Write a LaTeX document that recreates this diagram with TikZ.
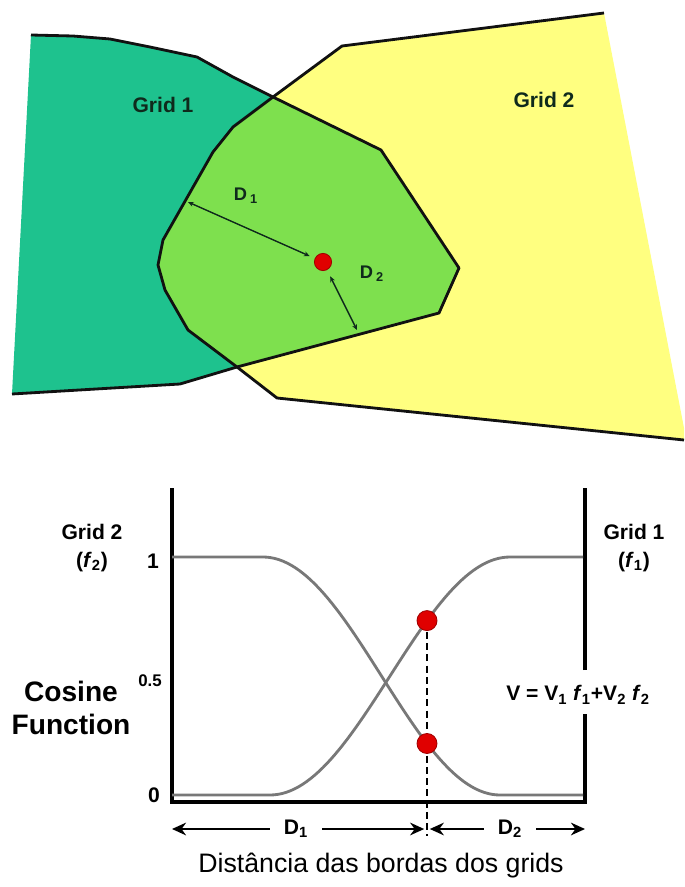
\documentclass[tikz,border=0pt]{standalone}
\usepackage{fontspec}
\setmainfont{Liberation Sans}
\usepackage{xcolor}
\usepackage{tikz}
\usetikzlibrary{arrows.meta, positioning, backgrounds}
\definecolor{gonefill}{HTML}{1EC28E}
\definecolor{gtwofill}{HTML}{FFFF80}
\definecolor{ovfill}{HTML}{7EE04E}
\definecolor{edgedraw}{HTML}{111111}
\definecolor{lbltext}{HTML}{0F2A1C}
\definecolor{dotfill}{HTML}{E00000}
\definecolor{dotdraw}{HTML}{A00000}
\definecolor{curvedraw}{HTML}{787878}
\tikzset{
  bnd/.style={draw=edgedraw, line width=2pt, line join=round},
  glab/.style={font=\fontsize{15}{18}\selectfont\bfseries, text=lbltext},
  dlab/.style={font=\fontsize{13}{15}\selectfont\bfseries, text=lbltext},
  reddot/.style={circle, fill=dotfill, draw=dotdraw, line width=0.6pt, inner sep=0pt, minimum size=0.43cm},
  darr/.style={<->, >={Stealth[length=4pt, width=3.5pt]}, line width=1pt, draw=lbltext},
  axisline/.style={draw=black, line width=2.2pt},
  coscurve/.style={draw=curvedraw, line width=2pt, line join=round},
  ticklab/.style={font=\fontsize{15}{18}\selectfont\bfseries},
  clab/.style={font=\fontsize{15}{20}\selectfont\bfseries, align=center},
  ylab/.style={font=\fontsize{20}{23.5}\selectfont\bfseries, align=center},
  vdash/.style={draw=black, line width=1.2pt, dash pattern=on 5pt off 3pt},
  harr/.style={->, >={Stealth[length=10pt, width=9pt]}, line width=1.5pt},
  hlab/.style={font=\fontsize{15}{18}\selectfont\bfseries, inner xsep=10pt},
}

\begin{document}
\begin{tikzpicture}[x=0.025cm, y=-0.025cm]
  \useasboundingbox (0,0) rectangle (684,887);
  \coordinate (U) at (273,97);
  \coordinate (L) at (237,367);
  \coordinate (r1) at (381,150);
  \coordinate (r2) at (459,268);
  \coordinate (r3) at (439,313);
  \coordinate (l1) at (233,127);
  \coordinate (l2) at (213,152);
  \coordinate (l3) at (163,240);
  \coordinate (l4) at (158,265);
  \coordinate (l5) at (165,290);
  \coordinate (l6) at (188,330);
  \fill[gonefill] (31,35) -- (73,36) -- (110,39) -- (150,47) -- (197,57) -- (233,77) -- (U) -- (r1) -- (r2) -- (r3) -- (L) -- (180,384) -- (12,394) -- cycle;
  \fill[gtwofill] (U) -- (342,46) -- (604,13) -- (684,428) -- (684,440) -- (277,398) -- (L) -- (l6) -- (l5) -- (l4) -- (l3) -- (l2) -- (l1) -- cycle;
  \fill[ovfill] (U) -- (r1) -- (r2) -- (r3) -- (L) -- (l6) -- (l5) -- (l4) -- (l3) -- (l2) -- (l1) -- cycle;
  \draw[bnd] (31,35) -- (73,36) -- (110,39) -- (150,47) -- (197,57) -- (233,77) -- (U) -- (r1) -- (r2) -- (r3) -- (L) -- (180,384) -- (12,394);
  \draw[bnd] (604,13) -- (342,46) -- (U) -- (l1) -- (l2) -- (l3) -- (l4) -- (l5) -- (l6) -- (L) -- (277,398) -- (684,440);
  \node[glab] (gone) at (163,105) {Grid 1};
  \node[glab] (gtwo) at (544,100) {Grid 2};
  \node[reddot] (pt) at (323,262) {};
  \coordinate (eone) at (188,202);
  \coordinate (etwo) at (357,330);
  \draw[darr, shorten >=4pt] (eone) -- (pt);
  \draw[darr, shorten <=5pt] (pt) -- (etwo);
  \node[dlab] (done) at (246,196) {D\,\textsubscript{1}};
  \node[dlab] (dtwo) at (372,274) {D\,\textsubscript{2}};

  \coordinate (O) at (172,802);
  \coordinate (ytop) at (172,488);
  \coordinate (xend) at (585,802);
  \coordinate (rtop) at (585,488);
  \coordinate (rgapa) at (585,670);
  \coordinate (rgapb) at (585,714);
  \draw[axisline] (ytop) -- (O) -- (xend) -- (rgapb);
  \draw[axisline] (rgapa) -- (rtop);
  \draw[coscurve] (172,557) -- (263,557) -- plot[domain=263:500, samples=60] (\x, {557+119*(1-cos((\x-263)/237*180))}) -- (583,795);
  \draw[coscurve] (172,795) -- (270,795) -- plot[domain=270:510, samples=60] (\x, {795-119*(1-cos((\x-270)/240*180))}) -- (583,557);
  \node[reddot, minimum size=0.5cm] (pone) at (427,620.6) {};
  \node[reddot, minimum size=0.5cm] (ptwo) at (427,743.5) {};
  \coordinate (dbot) at (427,836);
  \begin{scope}[on background layer]
    \draw[vdash] (pone.center) -- (dbot);
  \end{scope}
  \node[clab] (lgtwo) at (92,548) {Grid 2\\(\textit{f}\textsubscript{2})};
  \node[clab] (lgone) at (634,548) {Grid 1\\(\textit{f}\textsubscript{1})};
  \node[ticklab] (tone) at (153,561) {1};
  \node[ticklab, font=\fontsize{12}{14}\selectfont\bfseries] (thalf) at (150,681) {0.5};
  \node[ticklab] (tzero) at (154,795) {0};
  \node[ylab] (ylab) at (71,708) {Cosine\\Function};
  \node[ticklab] (vlab) at (578,695) {V = V\textsubscript{1} \textit{f}\textsubscript{1}+V\textsubscript{2} \textit{f}\textsubscript{2}};

  \node[hlab] (hdone) at (296,829) {D\textsubscript{1}};
  \node[hlab] (hdtwo) at (510,829) {D\textsubscript{2}};
  \coordinate (al) at (172,829);
  \coordinate (am) at (427,829);
  \coordinate (ar) at (585,829);
  \draw[harr] (hdone) -- (al);
  \draw[harr, shorten >=2pt] (hdone) -- (am);
  \draw[harr, shorten >=2pt] (hdtwo) -- (am);
  \draw[harr] (hdtwo) -- (ar);
  \node[font=\fontsize{19}{22}\selectfont] (cap) at (381,866) {Distância das bordas dos grids};
\end{tikzpicture}
\end{document}
